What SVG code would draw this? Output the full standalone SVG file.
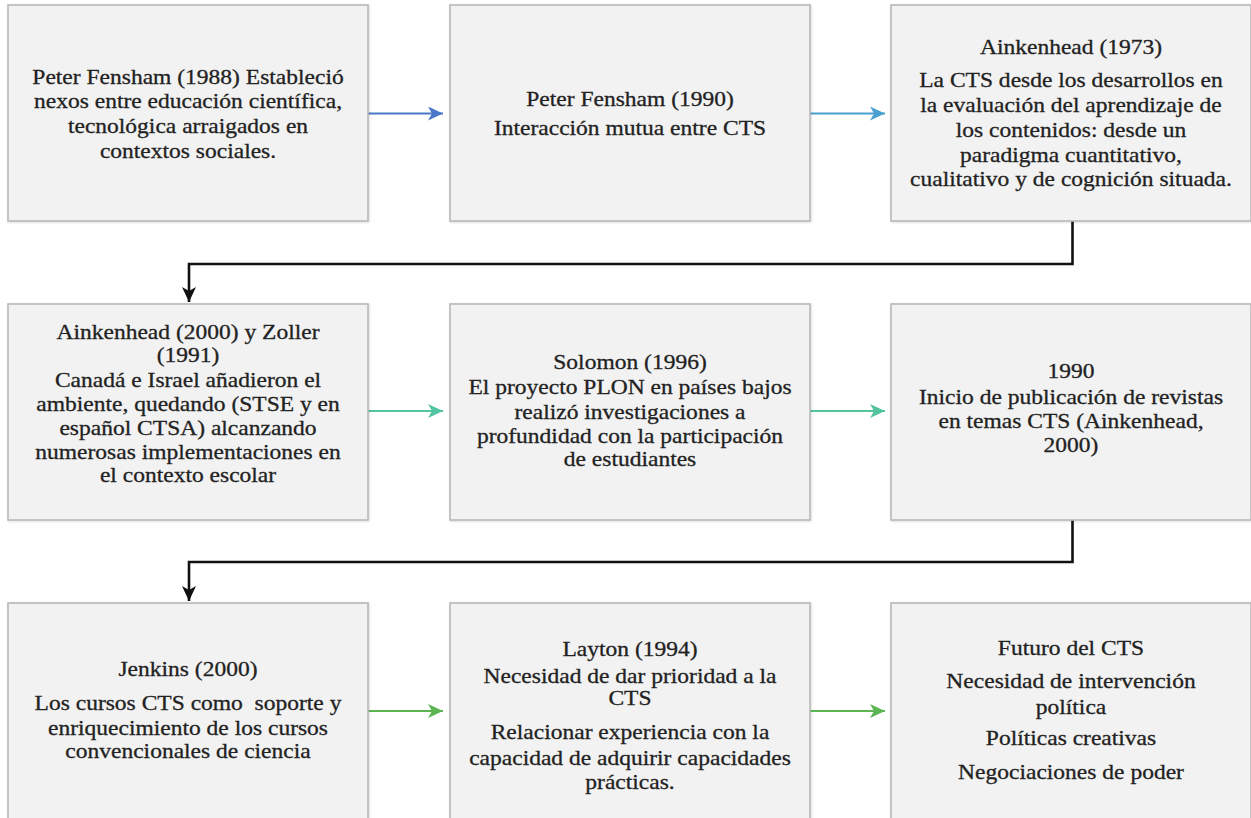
<svg xmlns="http://www.w3.org/2000/svg" width="1251" height="818" viewBox="0 0 1251 818">
<style>
.box{fill:#f2f2f2;stroke:#b8b8b8;stroke-width:1.6}
.t{font-family:"Liberation Serif","Times New Roman",serif;font-size:21px;fill:#222;stroke:#222;stroke-width:0.3;text-anchor:middle}
.c{fill:none;stroke-width:2.2}
.k{fill:none;stroke:#111;stroke-width:2.6}
</style>
<defs>
<filter id="sh" x="-5%" y="-5%" width="110%" height="110%"><feDropShadow dx="0.8" dy="0.8" stdDeviation="0.8" flood-color="#000" flood-opacity="0.15"/></filter>
<marker id="mb1" markerUnits="userSpaceOnUse" markerWidth="16" markerHeight="14" refX="15" refY="7" orient="auto"><path d="M0,0 L15,7 L0,14 L4,7 z" fill="#4a78c8"/></marker>
<marker id="mb2" markerUnits="userSpaceOnUse" markerWidth="16" markerHeight="14" refX="15" refY="7" orient="auto"><path d="M0,0 L15,7 L0,14 L4,7 z" fill="#4aa0d0"/></marker>
<marker id="mt" markerUnits="userSpaceOnUse" markerWidth="16" markerHeight="14" refX="15" refY="7" orient="auto"><path d="M0,0 L15,7 L0,14 L4,7 z" fill="#52c4a0"/></marker>
<marker id="mg" markerUnits="userSpaceOnUse" markerWidth="16" markerHeight="14" refX="15" refY="7" orient="auto"><path d="M0,0 L15,7 L0,14 L4,7 z" fill="#5cb553"/></marker>
<marker id="mk" markerUnits="userSpaceOnUse" markerWidth="16" markerHeight="14" refX="15" refY="7" orient="auto"><path d="M0,0 L15,7 L0,14 L4,7 z" fill="#111"/></marker>
</defs>
<rect width="1251" height="818" fill="#fff"/>
<g id="connectors">
<line class="c" x1="368" y1="113.5" x2="443" y2="113.5" stroke="#4a78c8" marker-end="url(#mb1)"/>
<line class="c" x1="810" y1="113.5" x2="885" y2="113.5" stroke="#4aa0d0" marker-end="url(#mb2)"/>
<polyline class="k" points="1072.5,221 1072.5,264 189,264 189,302" marker-end="url(#mk)"/>
<line class="c" x1="368" y1="411" x2="443" y2="411" stroke="#52c4a0" marker-end="url(#mt)"/>
<line class="c" x1="810" y1="411" x2="885" y2="411" stroke="#52c498" marker-end="url(#mt)"/>
<polyline class="k" points="1072.5,520 1072.5,562 189,562 189,601" marker-end="url(#mk)"/>
<line class="c" x1="368" y1="711" x2="443" y2="711" stroke="#5cb553" marker-end="url(#mg)"/>
<line class="c" x1="810" y1="711" x2="885" y2="711" stroke="#5cb553" marker-end="url(#mg)"/>
</g>
<g id="n1">
<rect class="box" x="8" y="5" width="360" height="216" filter="url(#sh)"/>
<g transform="translate(188 0) scale(1.12 1)">
<text class="t" x="0" y="84">Peter Fensham (1988) Estableció</text>
<text class="t" x="0" y="108.5">nexos entre educación científica,</text>
<text class="t" x="0" y="133.5">tecnológica arraigados en</text>
<text class="t" x="0" y="158">contextos sociales.</text>
</g>
</g>
<g id="n2">
<rect class="box" x="450" y="5" width="360" height="216" filter="url(#sh)"/>
<g transform="translate(630 0) scale(1.12 1)">
<text class="t" x="0" y="106.5">Peter Fensham (1990)</text>
<text class="t" x="0" y="135.5">Interacción mutua entre CTS</text>
</g>
</g>
<g id="n3">
<rect class="box" x="891" y="5" width="360" height="216" filter="url(#sh)"/>
<g transform="translate(1071 0) scale(1.12 1)">
<text class="t" x="0" y="54.5">Ainkenhead (1973)</text>
<text class="t" x="0" y="87.5">La CTS desde los desarrollos en</text>
<text class="t" x="0" y="112.5">la evaluación del aprendizaje de</text>
<text class="t" x="0" y="137.5">los contenidos: desde un</text>
<text class="t" x="0" y="162.5">paradigma cuantitativo,</text>
<text class="t" x="0" y="186.5">cualitativo y de cognición situada.</text>
</g>
</g>
<g id="n4">
<rect class="box" x="8" y="304" width="360" height="216" filter="url(#sh)"/>
<g transform="translate(188 0) scale(1.12 1)">
<text class="t" x="0" y="339">Ainkenhead (2000) y Zoller</text>
<text class="t" x="0" y="362.5">(1991)</text>
<text class="t" x="0" y="387">Canadá e Israel añadieron el</text>
<text class="t" x="0" y="411">ambiente, quedando (STSE y en</text>
<text class="t" x="0" y="435">español CTSA) alcanzando</text>
<text class="t" x="0" y="459">numerosas implementaciones en</text>
<text class="t" x="0" y="482">el contexto escolar</text>
</g>
</g>
<g id="n5">
<rect class="box" x="450" y="304" width="360" height="216" filter="url(#sh)"/>
<g transform="translate(630 0) scale(1.12 1)">
<text class="t" x="0" y="369.5">Solomon (1996)</text>
<text class="t" x="0" y="394.5">El proyecto PLON en países bajos</text>
<text class="t" x="0" y="419.5">realizó investigaciones a</text>
<text class="t" x="0" y="443.5">profundidad con la participación</text>
<text class="t" x="0" y="466.5">de estudiantes</text>
</g>
</g>
<g id="n6">
<rect class="box" x="891" y="304" width="360" height="216" filter="url(#sh)"/>
<g transform="translate(1071 0) scale(1.12 1)">
<text class="t" x="0" y="378.5">1990</text>
<text class="t" x="0" y="404.5">Inicio de publicación de revistas</text>
<text class="t" x="0" y="428.5">en temas CTS (Ainkenhead,</text>
<text class="t" x="0" y="452.5">2000)</text>
</g>
</g>
<g id="n7">
<rect class="box" x="8" y="603" width="360" height="216" filter="url(#sh)"/>
<g transform="translate(188 0) scale(1.12 1)">
<text class="t" x="0" y="676.5">Jenkins (2000)</text>
<text class="t" x="0" y="710.5" xml:space="preserve">Los cursos CTS como  soporte y</text>
<text class="t" x="0" y="735.5">enriquecimiento de los cursos</text>
<text class="t" x="0" y="758.5">convencionales de ciencia</text>
</g>
</g>
<g id="n8">
<rect class="box" x="450" y="603" width="360" height="216" filter="url(#sh)"/>
<g transform="translate(630 0) scale(1.12 1)">
<text class="t" x="0" y="656.5">Layton (1994)</text>
<text class="t" x="0" y="683.5">Necesidad de dar prioridad a la</text>
<text class="t" x="0" y="705.5">CTS</text>
<text class="t" x="0" y="739.5">Relacionar experiencia con la</text>
<text class="t" x="0" y="765.5">capacidad de adquirir capacidades</text>
<text class="t" x="0" y="789.5">prácticas.</text>
</g>
</g>
<g id="n9">
<rect class="box" x="891" y="603" width="360" height="216" filter="url(#sh)"/>
<g transform="translate(1071 0) scale(1.12 1)">
<text class="t" x="0" y="655.5">Futuro del CTS</text>
<text class="t" x="0" y="688.5">Necesidad de intervención</text>
<text class="t" x="0" y="714.5">política</text>
<text class="t" x="0" y="745.5">Políticas creativas</text>
<text class="t" x="0" y="779.5">Negociaciones de poder</text>
</g>
</g>
</svg>
